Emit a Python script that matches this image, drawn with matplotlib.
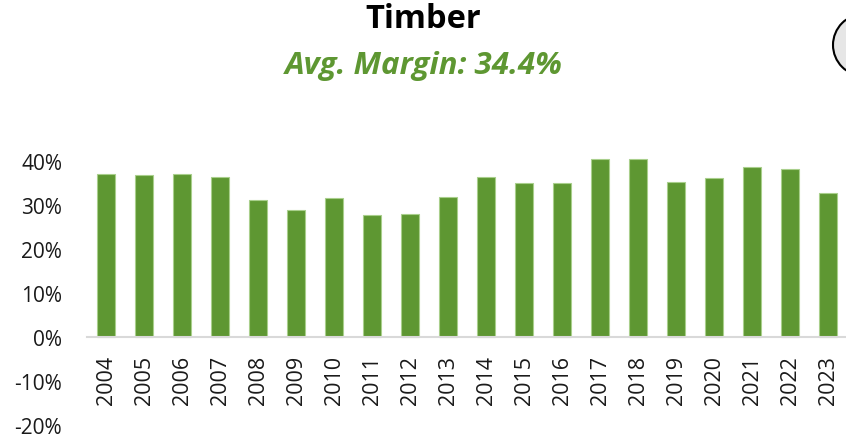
import matplotlib
matplotlib.use("Agg")
from matplotlib import pyplot as plt
from matplotlib.patches import Ellipse
from matplotlib.ticker import FuncFormatter

plt.rcParams['font.family'] = ['Open Sans', 'DejaVu Sans']

years = [str(y) for y in range(2004, 2024)]
margins = [37.0, 36.8, 37.0, 36.4, 31.1, 28.8, 31.6, 27.7, 27.9, 31.8,
           36.3, 35.1, 35.1, 40.5, 40.4, 35.3, 36.2, 38.6, 38.2, 32.7]
title = "Timber"
avg_margin = 34.4

bar_color = '#5e9732'
edge_color = '#a9cf8c'
green_text = '#5e9732'
label_color = '#1a1a1a'

fig = plt.figure(figsize=(8.46, 4.39), dpi=100)
ax = fig.add_axes([87 / 846, 13 / 439, 760 / 846, 264 / 439])

x = list(range(len(years)))
ax.bar(x, margins, width=0.46, color=bar_color, edgecolor=edge_color,
       linewidth=0.8, zorder=2, clip_on=False)

ax.set_xlim(-0.5, len(years) - 0.5)
ax.set_ylim(-20, 40)
ax.set_yticks(range(-20, 41, 10))
ax.yaxis.set_major_formatter(FuncFormatter(lambda v, _: f"{v:.0f}%"))

for side in ('top', 'right', 'left'):
    ax.spines[side].set_visible(False)
# category axis crosses at zero, year labels hang under it
ax.spines['bottom'].set_position(('data', 0))
ax.spines['bottom'].set_color('#d9d9d9')
ax.spines['bottom'].set_linewidth(1.5)
ax.spines['bottom'].set_zorder(3)

ax.tick_params(axis='y', length=0, pad=18, labelsize=15, labelcolor=label_color)
ax.set_xticks(x)
ax.set_xticklabels(years, rotation=90, va='top', ha='center')
ax.tick_params(axis='x', length=0, pad=13, labelsize=15.5, labelcolor=label_color)

fig.text(423 / 846, 1 - 20 / 439, title, ha='center', va='center',
         fontsize=23.5, fontweight='bold', color='black')
fig.text(424 / 846, 1 - 66 / 439, f"Avg. Margin: {avg_margin}%", ha='center', va='center',
         fontsize=22.5, fontweight='bold', style='italic', color=green_text)

fig.add_artist(Ellipse((864 / 846, 1 - 46 / 439), 62 / 846, 62 / 439,
                       transform=fig.transFigure, facecolor='#e6e6e6',
                       edgecolor='black', linewidth=1.5))

fig.savefig("out.png", dpi=100)
